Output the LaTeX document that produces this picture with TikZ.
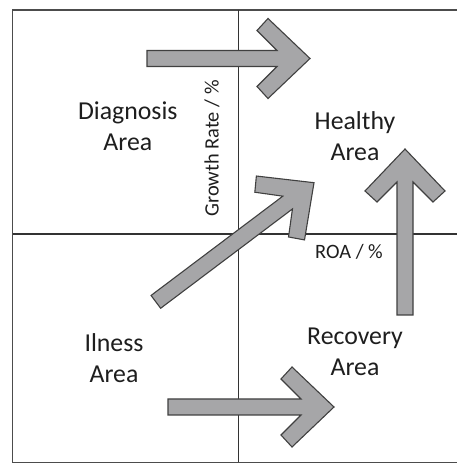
\documentclass[tikz,border=0pt]{standalone}
\usepackage{fontspec}
\setmainfont{Carlito}
\definecolor{arrowgray}{HTML}{A6A6A8}
\definecolor{inkgray}{HTML}{1E1E1E}
\begin{document}
\begin{tikzpicture}[x=1pt,y=1pt,
  frameline/.style={draw=black!70, line width=1.6pt},
  axisline/.style={draw=black!80, line width=1.2pt},
  arrowbody/.style={fill=arrowgray, draw=black!75, line width=1.1pt, line join=miter},
  arealabel/.style={font=\fontsize{25.8}{31}\selectfont, text=inkgray, align=center, inner sep=0pt},
  axislabel/.style={font=\fontsize{20.4}{24}\selectfont, text=inkgray, inner sep=0pt},
  pics/bigarrow/.style={code={
    \path[arrowbody] (0,0) -- (-42,40) -- (-53,28) -- (-33,8) -- (-#1,8) -- (-#1,-8) -- (-33,-8) -- (-53,-28) -- (-42,-40) -- cycle;}}
]
\useasboundingbox (0,0) rectangle (457,464);
\fill[white] (0,0) rectangle (457,464);
% frame
\coordinate (ftr) at (457,454);
\coordinate (ftl) at (12.5,454);
\coordinate (fbl) at (12.5,1.5);
\coordinate (fbr) at (457,1.5);
\draw[frameline] (ftr) -- (ftl) -- (fbl) -- (fbr);
% axes
\coordinate (vtop) at (238.5,454);
\coordinate (vbot) at (238.5,1.5);
\coordinate (hleft) at (12.5,230);
\coordinate (hright) at (457,230);
\draw[axisline] (vtop) -- (vbot);
\draw[axisline] (hleft) -- (hright);
% arrows
\pic (arrowtop) at (310,405.5) {bigarrow=163};
\pic[rotate=37] (arrowdiag) at (314,281.3) {bigarrow=198};
\pic[rotate=90] (arrowup) at (405,315) {bigarrow=166};
\pic (arrowbottom) at (334,57) {bigarrow=166};
% labels
\node[arealabel] (diag) at (127.8,338) {Diagnosis\\Area};
\node[arealabel] (healthy) at (355,328) {Healthy\\Area};
\node[arealabel] (ilness) at (114,106) {Ilness\\Area};
\node[arealabel] (recovery) at (355,112) {Recovery\\Area};
\node[axislabel, rotate=90, anchor=base] (growth) at (218.5,315.5) {Growth Rate / \%};
\node[axislabel, anchor=base] (roa) at (349,205.7) {ROA / \%};
\end{tikzpicture}
\end{document}
